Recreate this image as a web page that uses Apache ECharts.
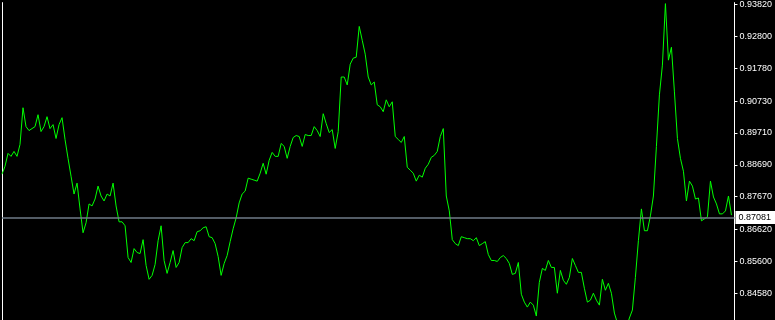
<!DOCTYPE html>
<html>
<head>
<meta charset="utf-8">
<style>
html,body{margin:0;padding:0;background:#000;}
#chart{width:775px;height:320px;}
</style>
<script src="https://cdn.jsdelivr.net/npm/echarts@6/dist/echarts.min.js"></script>
</head>
<body>
<div id="chart"></div>
<script>
// Close prices (one per bar)
const closes = [
0.88389,0.88643,0.89056,0.88960,0.89119,0.88960,0.89341,0.90516,0.89912,0.89786,
0.89849,0.89912,0.90293,0.89754,0.89912,0.90230,0.89849,0.89976,0.89532,0.89976,
0.90198,0.89500,0.88897,0.88325,0.87754,0.88103,0.87278,0.86516,0.86834,0.87437,
0.87373,0.87595,0.88008,0.87691,0.87532,0.87754,0.87691,0.88103,0.87373,0.86865,
0.86865,0.86738,0.85723,0.85564,0.86008,0.85882,0.85850,0.86294,0.85469,0.85025,
0.85151,0.85501,0.86262,0.86738,0.85628,0.85215,0.85564,0.85945,0.85405,0.85564,
0.86040,0.86199,0.86199,0.86326,0.86262,0.86548,0.86580,0.86675,0.86707,0.86389,
0.86358,0.86167,0.85755,0.85151,0.85532,0.85786,0.86231,0.86643,0.86992,0.87469,
0.87754,0.87849,0.88262,0.88230,0.88199,0.88167,0.88421,0.88738,0.88389,0.88833,
0.89087,0.88960,0.88960,0.89373,0.89278,0.88897,0.89278,0.89563,0.89627,0.89595,
0.89278,0.89659,0.89627,0.89627,0.89912,0.89786,0.89595,0.90325,0.90008,0.89722,
0.89817,0.89214,0.89754,0.91499,0.91499,0.91246,0.91912,0.92103,0.92134,0.93118,
0.92674,0.92230,0.91499,0.91246,0.91341,0.90611,0.90547,0.90389,0.90769,0.90547,
0.90706,0.89595,0.89500,0.89405,0.89595,0.88611,0.88516,0.88421,0.88167,0.88357,
0.88294,0.88579,0.88706,0.88929,0.88992,0.89119,0.89595,0.89849,0.87691,0.87215,
0.86294,0.86167,0.86104,0.86389,0.86358,0.86326,0.86326,0.86262,0.86358,0.86104,
0.86167,0.86231,0.85818,0.85628,0.85628,0.85596,0.85723,0.85786,0.85691,0.85532,
0.85183,0.85215,0.85564,0.84548,0.84295,0.84136,0.84295,0.84199,0.83850,0.84929,
0.85374,0.85310,0.85628,0.85405,0.85405,0.84580,0.85310,0.84993,0.84866,0.85088,
0.85691,0.85469,0.85247,0.85247,0.84739,0.84295,0.84358,0.84580,0.84358,0.84199,
0.85025,0.84675,0.84898,0.84580,0.83945,0.83628,0.83406,0.83342,0.83469,0.83787,
0.84041,0.85088,0.86262,0.87278,0.86580,0.86580,0.87056,0.87691,0.89278,0.90928,
0.91880,0.93848,0.92039,0.92452,0.91023,0.89532,0.88897,0.88484,0.87532,0.88167,
0.88008,0.87595,0.87627,0.86897,0.86961,0.87024,0.88167,0.87659,0.87437,0.87119,
0.87119,0.87215,0.87691,0.87081
];
// Price scale tick labels shown on the right
const priceTicks = [0.93820,0.92800,0.91780,0.90730,0.89710,0.88690,0.87670,0.86620,0.85600,0.84580];
// Current bid price
const bidPrice = [0.87081];
// Bar numbers (one extra empty slot at the right edge)
const bars = closes.map((_, i) => i + 1).concat([closes.length + 1]);

const chart = echarts.init(document.getElementById('chart'), null, {renderer: 'canvas'});
chart.setOption({
  backgroundColor: '#000000',
  animation: false,
  grid: {left: 2, right: 39, top: 0, bottom: 0, containLabel: false},
  xAxis: {
    type: 'category',
    data: bars,
    boundaryGap: false,
    show: false
  },
  yAxis: [{
    type: 'value',
    position: 'right',
    min: 0.83723,
    max: 0.93880,
    splitLine: {show: false},
    axisLine: {show: true, lineStyle: {color: '#ffffff', width: 1}},
    axisTick: {show: true, inside: false, length: 3, customValues: priceTicks, lineStyle: {color: '#ffffff'}},
    axisLabel: {
      show: true,
      customValues: priceTicks,
      margin: 5,
      color: '#ffffff',
      fontFamily: 'Liberation Sans',
      fontSize: 9,
      formatter: v => v.toFixed(5)
    }
  }, {
    type: 'value',
    position: 'left',
    min: 0.83723,
    max: 0.93880,
    splitLine: {show: false},
    axisLine: {show: true, lineStyle: {color: '#ffffff', width: 1}},
    axisTick: {show: false},
    axisLabel: {show: false}
  }],
  series: [{
    type: 'line',
    data: closes,
    yAxisIndex: 0,
    symbol: 'none',
    smooth: false,
    clip: true,
    lineStyle: {color: '#00ff00', width: 1},
    markLine: {
      silent: true,
      symbol: ['none', 'none'],
      animation: false,
      lineStyle: {color: '#6f7b89', width: 1.5, type: 'solid'},
      label: {
        show: true,
        position: 'end',
        distance: 1,
        formatter: () => bidPrice[0].toFixed(5),
        backgroundColor: '#ffffff',
        color: '#000000',
        fontFamily: 'Liberation Sans',
        fontSize: 9,
        padding: [2, 4, 2, 3]
      },
      data: [{yAxis: bidPrice[0]}]
    }
  }]
});
</script>
</body>
</html>
